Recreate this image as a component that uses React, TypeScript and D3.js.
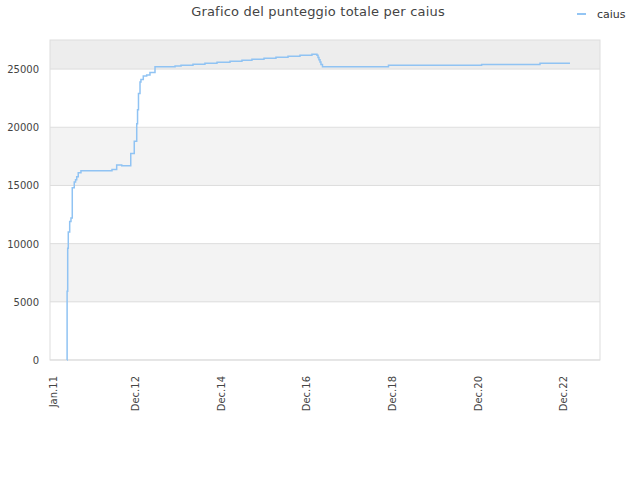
import React from 'react';
import * as d3 from 'd3';

// cumulative total score for caius, step points (date, score)
const dates = [
  '2011-04-30', '2011-05-01', '2011-05-06', '2011-05-11', '2011-05-23', '2011-06-03',
  '2011-06-14', '2011-07-01', '2011-07-12', '2011-07-22', '2011-08-04', '2011-08-27',
  '2012-05-18', '2012-06-27', '2012-08-09', '2012-10-25', '2012-11-24', '2012-12-15',
  '2012-12-22', '2012-12-30', '2013-01-12', '2013-01-20', '2013-02-09', '2013-03-10',
  '2013-04-07', '2013-05-20', '2013-11-07', '2013-12-28', '2014-04-09', '2014-07-20',
  '2014-10-31', '2015-02-19', '2015-06-01', '2015-08-25', '2015-12-06', '2016-03-17',
  '2016-06-28', '2016-10-08', '2017-01-18', '2017-03-02', '2017-03-11', '2017-03-19',
  '2017-03-28', '2017-04-05', '2017-04-18', '2018-11-02', '2021-01-05', '2022-05-18',
  '2023-01-29',
];
const scores = [
  0, 5900, 9600, 11000, 11900, 12200,
  14800, 15300, 15500, 15750, 16100, 16270,
  16380, 16760, 16700, 17750, 18800, 20300,
  21500, 22900, 23900, 24100, 24400, 24500,
  24700, 25210, 25260, 25320, 25410, 25500,
  25580, 25670, 25760, 25840, 25930, 26010,
  26100, 26190, 26270, 26200, 26000, 25800,
  25600, 25400, 25210, 25320, 25400, 25500,
  25500,
];

const xTickDates = ['2011-01-01', '2012-12-01', '2014-12-01', '2016-12-01', '2018-12-01', '2020-12-01', '2022-12-01'];
const xTickLabels = ['Jan.11', 'Dec.12', 'Dec.14', 'Dec.16', 'Dec.18', 'Dec.20', 'Dec.22'];
const yTicks = [0, 5000, 10000, 15000, 20000, 25000];
const xDomain = ['2010-12-06', '2023-10-12'];
const yMax = 27500;

const title = 'Grafico del punteggio totale per caius';
const seriesName = 'caius';

const parse = d3.timeParse('%Y-%m-%d');

export default function App() {
  const width = 640;
  const height = 480;
  const margin = { top: 40, right: 40, bottom: 120, left: 50 };
  const innerW = width - margin.left - margin.right;
  const innerH = height - margin.top - margin.bottom;

  const x = d3
    .scaleTime()
    .domain(xDomain.map((d) => parse(d)!))
    .range([0, innerW]);
  const y = d3.scaleLinear().domain([0, yMax]).range([innerH, 0]);

  const points = dates.map((d, i) => ({ date: parse(d)!, value: scores[i] }));
  const line = d3
    .line<{ date: Date; value: number }>()
    .x((d) => x(d.date))
    .y((d) => y(d.value))
    .curve(d3.curveStepAfter);

  // alternating bands between y ticks, plus top band up to the max
  const bandEdges = [...yTicks, yMax];
  const bandFills = ['#ffffff', '#f3f3f3', '#ffffff', '#f3f3f3', '#ffffff', '#ededed'];

  const font = 'DejaVu Sans, sans-serif';

  return (
    <svg
      width={width}
      height={height}
      style={{ position: 'absolute', left: 0, top: 0, background: '#fff' }}
      fontFamily={font}
    >
      <text x={318} y={16} textAnchor="middle" fontSize={13} letterSpacing={0.2} fill="#444">
        {title}
      </text>
      <g transform="translate(577,14)">
        <line x1={0} x2={9} y1={0} y2={0} stroke="#93c5f4" strokeWidth={2} />
        <text x={20} y={4} fontSize={11} fill="#333">
          {seriesName}
        </text>
      </g>
      <g transform={`translate(${margin.left},${margin.top})`}>
        {bandEdges.slice(0, -1).map((v, i) => (
          <rect
            key={`band-${v}`}
            x={0}
            width={innerW}
            y={y(bandEdges[i + 1])}
            height={y(v) - y(bandEdges[i + 1])}
            fill={bandFills[i]}
          />
        ))}
        {yTicks.map((t) => (
          <g key={`y-${t}`}>
            <line x1={0} x2={innerW} y1={y(t)} y2={y(t)} stroke="#dddddd" />
            <text x={-11} y={y(t) + 4} textAnchor="end" fontSize={10} fill="#444">
              {t}
            </text>
          </g>
        ))}
        <rect x={0} y={0} width={innerW} height={innerH} fill="none" stroke="#dddddd" />
        <path d={line(points) ?? ''} fill="none" stroke="#90c3f3" strokeWidth={1.5} />
        {xTickDates.map((d, i) => {
          const tx = x(parse(d)!);
          return (
            <text
              key={`x-${d}`}
              transform={`translate(${tx + 4},${innerH + 16}) rotate(-90)`}
              textAnchor="end"
              fontSize={10}
              fill="#444"
            >
              {xTickLabels[i]}
            </text>
          );
        })}
      </g>
    </svg>
  );
}
